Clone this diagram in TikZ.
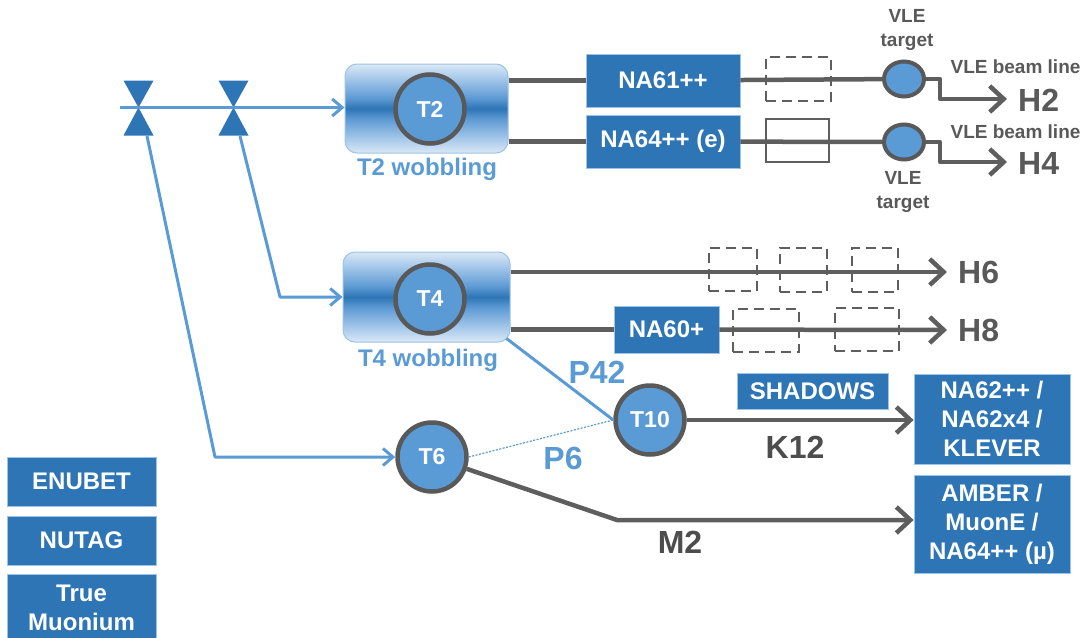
\documentclass[tikz,border=0pt]{standalone}
\usepackage{fontspec}
\setmainfont{Liberation Sans}
\usetikzlibrary{arrows.meta,shapes.geometric,calc}
\definecolor{boxblue}{HTML}{2E75B6}
\definecolor{tblue}{HTML}{5B9BD5}
\definecolor{edgeblue}{HTML}{9DC3E6}
\definecolor{cgray}{HTML}{595959}
\definecolor{lgray}{HTML}{5E5E5E}
\definecolor{dgray}{HTML}{4D4D4D}
\definecolor{wl}{HTML}{DAE8F6}
\definecolor{wm2}{HTML}{A6C8EA}
\definecolor{wm}{HTML}{5E9BD4}
\definecolor{wd}{HTML}{2E75B6}
\pgfdeclareverticalshading{wobshade}{100bp}{color(0bp)=(wl); color(25bp)=(wl); color(33bp)=(wm2); color(44bp)=(wm); color(50bp)=(wd); color(56bp)=(wm); color(67bp)=(wm2); color(75bp)=(wl); color(100bp)=(wl)}
\tikzset{
  bluebox/.style={rectangle, fill=boxblue, draw=edgeblue, line width=0.8pt, text=white, font=\bfseries\fontsize{24}{29}\selectfont, inner sep=0pt, align=center},
  target/.style={circle, fill=tblue, draw=cgray, line width=4.5pt, minimum size=69pt, text=white, font=\bfseries\fontsize{23}{28}\selectfont, inner sep=0pt},
  vle/.style={ellipse, fill=tblue, draw=cgray, line width=4pt, minimum width=40pt, minimum height=35pt, inner sep=0pt},
  wob/.style={rectangle, rounded corners=12pt, shading=wobshade, draw=edgeblue, line width=1pt, inner sep=0pt},
  bline/.style={draw=tblue, line width=3pt, line join=round},
  barrow/.style={bline, -{Straight Barb[length=10pt,width=17pt]}},
  gline/.style={draw=lgray, line width=4.5pt, line join=round},
  garrow/.style={gline, -{Straight Barb[length=14pt,width=26pt]}},
  dbox/.style={rectangle, draw=lgray, line width=2.2pt, dash pattern=on 10pt off 6pt, inner sep=0pt},
  sbox/.style={rectangle, draw=lgray, line width=2.2pt, inner sep=0pt},
  wobtext/.style={text=tblue, font=\bfseries\fontsize{24}{29}\selectfont, inner sep=0pt},
  bigblue/.style={text=tblue, font=\bfseries\fontsize{32}{38}\selectfont, inner sep=0pt},
  biggray/.style={text=dgray, font=\bfseries\fontsize{32}{38}\selectfont, inner sep=0pt},
  hlabel/.style={text=cgray, font=\bfseries\fontsize{32}{38}\selectfont, inner sep=0pt, anchor=west},
  small/.style={text=cgray, font=\bfseries\fontsize{19}{24}\selectfont, inner sep=0pt, align=center},
}
\begin{document}
\begin{tikzpicture}[x=1pt,y=-1pt]
\useasboundingbox (0,0) rectangle (1086,637);
\clip (0,0) rectangle (1086,637);

% wobbling boxes and targets
\node[wob, minimum width=163pt, minimum height=89pt] (t2box) at (426.5,108.5) {};
\node[wob, minimum width=167pt, minimum height=90pt] (t4box) at (426.5,297) {};
\node[target] (t2) at (430,109) {T2};
\node[target] (t4) at (430,299) {T4};
\node[target] (t6) at (432,457) {T6};
\node[target] (t10) at (650,420) {T10};
\node[wobtext] (t2lab) at (427,169) {T2 wobbling};
\node[wobtext] (t4lab) at (428,360) {T4 wobbling};

% experiment boxes
\node[bluebox, minimum width=154pt, minimum height=53pt] (na61) at (663,80.5) {NA61++};
\node[bluebox, minimum width=154pt, minimum height=53pt] (na64) at (663,141.5) {NA64++ (e)};
\node[bluebox, minimum width=105pt, minimum height=47pt] (na60) at (666.5,329.5) {NA60+};
\node[bluebox, minimum width=151pt, minimum height=36pt] (shadows) at (812.5,391) {SHADOWS};
\node[bluebox, minimum width=156pt, minimum height=90pt] (na62) at (992,419) {NA62++ /\\NA62x4 /\\KLEVER};
\node[bluebox, minimum width=156pt, minimum height=98pt] (amber) at (992,524) {AMBER /\\MuonE /\\NA64++ (µ)};
\node[bluebox, minimum width=149pt, minimum height=49pt] (enubet) at (81.5,481.5) {ENUBET};
\node[bluebox, minimum width=149pt, minimum height=49pt] (nutag) at (81.5,540.5) {NUTAG};
\node[bluebox, minimum width=149pt, minimum height=68pt] (muon) at (81.5,608) {True\\Muonium};

% VLE targets
\node[vle] (vle1) at (904,79) {};
\node[vle] (vle2) at (904,142) {};

% input beam and valves
\coordinate (src) at (120,107.5);
\coordinate (v1) at (138.5,107.5);
\coordinate (v2) at (233.5,107.5);
\fill[boxblue] (v1) -- ++(-15,-27) -- ++(30,0) -- cycle;
\fill[boxblue] (v1) -- ++(-15,28) -- ++(30,0) -- cycle;
\fill[boxblue] (v2) -- ++(-15,-27) -- ++(30,0) -- cycle;
\fill[boxblue] (v2) -- ++(-15,28) -- ++(30,0) -- cycle;
\draw[barrow] (src) -- (src -| t2box.west);
\coordinate (v1o) at (147,136);
\coordinate (c6) at (215,457);
\draw[barrow] (v1o) -- (c6) -- (t6);
\coordinate (v2o) at (240,136);
\coordinate (c4) at (280,297);
\draw[barrow] (v2o) -- (c4) -- (t4box);

% T2 lines
\coordinate (k1) at (940,79);
\coordinate (k1b) at (940,99);
\coordinate (h2tip) at (1007,99);
\coordinate (k2) at (940,142);
\coordinate (k2b) at (940,162);
\coordinate (h4tip) at (1007,162);
\draw[gline] (t2box.east |- na61) -- (na61);
\draw[gline] (na61) -- (vle1);
\draw[garrow] (vle1) -- (k1) -- (k1b) -- (h2tip);
\draw[gline] (t2box.east |- na64) -- (na64);
\draw[gline] (na64) -- (vle2);
\draw[garrow] (vle2) -- (k2) -- (k2b) -- (h4tip);
\node[dbox, minimum width=65pt, minimum height=44pt] (d1) at (798.5,79) {};
\node[sbox, minimum width=63pt, minimum height=43pt] (s1) at (797.5,140.5) {};

% T4 lines
\coordinate (h6tip) at (947,272);
\coordinate (h8tip) at (947,330);
\draw[garrow] (t4box.east |- h6tip) -- (h6tip);
\draw[gline] (t4box.east |- na60) -- (na60);
\draw[garrow] (na60) -- (h8tip);
\node[dbox, minimum width=48pt, minimum height=43pt] (d2) at (733,269.5) {};
\node[dbox, minimum width=47pt, minimum height=44pt] (d3) at (803.5,270) {};
\node[dbox, minimum width=46pt, minimum height=44pt] (d4) at (875,270) {};
\node[dbox, minimum width=66pt, minimum height=43pt] (d5) at (766,330.5) {};
\node[dbox, minimum width=64pt, minimum height=43pt] (d6) at (867,329.5) {};

% P42, P6, K12, M2
\draw[bline] ($(t4box.south east)+(-4,-4)$) -- (t10.west);
\draw[draw=tblue, line width=1.2pt, dash pattern=on 2pt off 1.5pt] (t6.east) -- (t10.west);
\draw[garrow] (t10.east) -- (t10.east -| na62.west);
\coordinate (m2c) at (617,520);
\draw[garrow] (t6) -- (m2c) -- (m2c -| amber.west);

% labels
\node[bigblue] (p42) at (597,372) {P42};
\node[bigblue] (p6) at (563,458) {P6};
\node[biggray] (k12) at (795,447) {K12};
\node[biggray] (m2) at (680,542) {M2};
\node[hlabel] (h2) at (1018,100) {H2};
\node[hlabel] (h4) at (1018,163) {H4};
\node[hlabel] (h6) at (958,272) {H6};
\node[hlabel] (h8) at (958,330) {H8};
\node[small] (vt1) at (907,30) {VLE\\target};
\node[small] (vt2) at (903,192) {VLE\\target};
\node[small] (vb1) at (1015.5,67) {VLE beam line};
\node[small] (vb2) at (1015.5,132) {VLE beam line};
\end{tikzpicture}
\end{document}
